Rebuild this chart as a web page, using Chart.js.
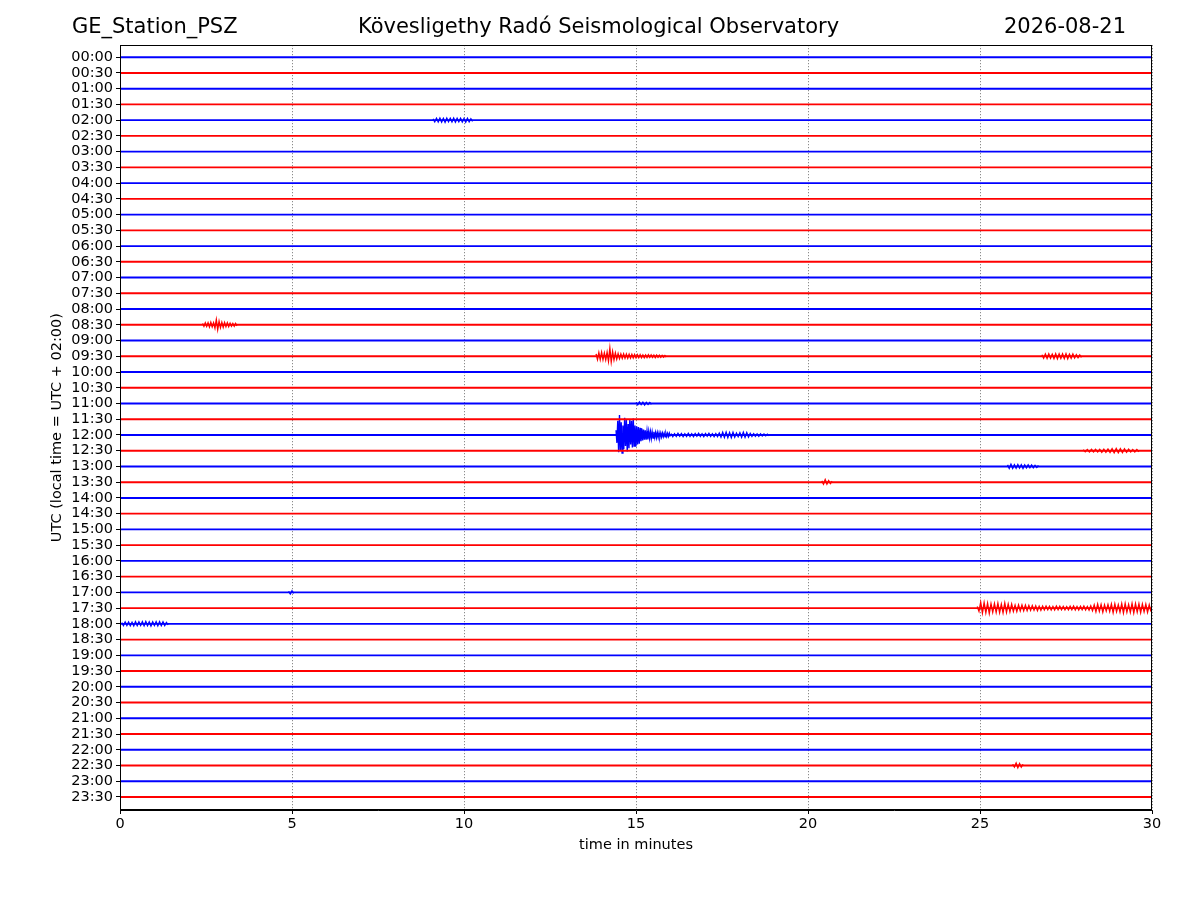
<!DOCTYPE html>
<html>
<head>
<meta charset="utf-8">
<script src="https://cdn.jsdelivr.net/npm/chart.js@4.4.1/dist/chart.umd.min.js"></script>
<style>
  html, body { margin: 0; padding: 0; background: #fff; }
  #wrap { width: 1200px; height: 900px; }
</style>
</head>
<body>
<div id="wrap"><canvas id="c" width="1200" height="900"></canvas></div>
<script>
// ---------- DATA ----------
const stationLabel = 'GE_Station_PSZ';
const titleLabel = 'Kövesligethy Radó Seismological Observatory';
const dateLabel = '2026-08-21';
const xTitle = 'time in minutes';
const yTitle = 'UTC (local time = UTC + 02:00)';

const rowLabels = ['00:00','00:30','01:00','01:30','02:00','02:30','03:00','03:30',
  '04:00','04:30','05:00','05:30','06:00','06:30','07:00','07:30',
  '08:00','08:30','09:00','09:30','10:00','10:30','11:00','11:30',
  '12:00','12:30','13:00','13:30','14:00','14:30','15:00','15:30',
  '16:00','16:30','17:00','17:30','18:00','18:30','19:00','19:30',
  '20:00','20:30','21:00','21:30','22:00','22:30','23:00','23:30'];
const traceStart = 0;   // minutes
const traceEnd = 30;    // minutes

// Events: deflections (in row-spacing units, up = positive)
// 12:00 earthquake, main phase (sampled every 0.025 min from 14.42)
const quakeStart = 14.42, quakeStep = 0.025;
const quakeAmp = [0.3,-0.5,0.9,-1.1,1.27,-1.0,0.8,-1.15,0.6,-0.9,
  1.1,-0.7,0.95,-1.05,0.7,-0.85,1.0,-0.6,0.9,-0.8,
  1.05,-0.7,0.6,-0.75,0.55,-0.6,0.5,-0.55,0.45,-0.4,
  0.4,-0.35,0.35,-0.3,0.3,-0.3,0.25,-0.28,0.22,-0.2,
  0.2,-0.22,0.18,-0.2,0.2,-0.16,0.15,-0.17,0.14,-0.15,
  0.13,-0.14,0.12,-0.13,0.12,-0.11,0.1,-0.12,0.1,-0.1,
  0.1,-0.09,0.1,-0.1];
// 12:00 earthquake, coda (every 0.05 min from 16.02)
const codaStart = 16.02, codaStep = 0.05;
const codaAmp = [0.09,-0.1,0.08,-0.09,0.1,-0.08,0.09,-0.1,0.08,-0.09,
  0.1,-0.09,0.08,-0.1,0.09,-0.08,0.1,-0.09,0.08,-0.1,
  0.09,-0.08,0.1,-0.09,0.08,-0.1,0.09,-0.1,0.12,-0.14,
  0.16,-0.15,0.17,-0.16,0.15,-0.17,0.16,-0.14,0.12,-0.1,
  0.14,-0.15,0.16,-0.14,0.15,-0.13,0.1,-0.09,0.08,-0.08,
  0.07,-0.08,0.07,-0.06,0.06,-0.05,0.05,-0.05];
// 17:30 event (every 0.05 min from 24.92)
const ev1730Start = 24.92, ev1730Step = 0.05;
const ev1730Amp = [0.1,-0.2,0.36,-0.3,0.34,-0.28,0.3,-0.33,0.27,-0.25,
  0.28,-0.26,0.3,-0.27,0.24,-0.29,0.31,-0.26,0.25,-0.22,
  0.24,-0.2,0.18,-0.21,0.2,-0.17,0.19,-0.16,0.18,-0.15,
  0.16,-0.14,0.15,-0.13,0.14,-0.15,0.12,-0.13,0.12,-0.11,
  0.12,-0.1,0.11,-0.12,0.1,-0.11,0.12,-0.1,0.11,-0.1,
  0.1,-0.11,0.09,-0.1,0.11,-0.1,0.12,-0.11,0.1,-0.12,
  0.11,-0.1,0.12,-0.11,0.1,-0.12,0.14,-0.16,0.2,-0.22,
  0.24,-0.2,0.22,-0.25,0.2,-0.18,0.22,-0.2,0.25,-0.28,
  0.26,-0.22,0.2,-0.24,0.27,-0.3,0.28,-0.25,0.22,-0.26,
  0.28,-0.3,0.27,-0.24,0.26,-0.28,0.25,-0.22,0.24,-0.26,
  0.2,-0.22];
// 09:30 event (every 0.04 min from 13.84)
const ev0930Start = 13.84, ev0930Step = 0.04;
const ev0930Amp = [0.15,-0.2,0.22,-0.2,0.24,-0.21,0.2,-0.22,0.25,-0.3,
  0.5,-0.35,0.28,-0.22,0.2,-0.18,0.16,-0.15,0.14,-0.13,
  0.14,-0.12,0.13,-0.12,0.12,-0.11,0.12,-0.1,0.11,-0.1,
  0.1,-0.09,0.1,-0.09,0.08,-0.09,0.08,-0.08,0.09,-0.07,
  0.08,-0.07,0.07,-0.08,0.07,-0.06,0.06,-0.07,0.06,-0.05,
  0.05,-0.05];
// 09:30 second burst (every 0.05 min from 26.8)
const ev0930bStart = 26.8, ev0930bStep = 0.05;
const ev0930bAmp = [0.1,-0.12,0.14,-0.13,0.15,-0.12,0.13,-0.14,0.15,-0.16,
  0.14,-0.13,0.15,-0.14,0.16,-0.15,0.13,-0.12,0.14,-0.11,0.1,-0.09,0.08,-0.07];
// 08:30 event (every 0.04 min from 2.4)
const ev0830Start = 2.4, ev0830Step = 0.04;
const ev0830Amp = [0.08,-0.1,0.12,-0.1,0.12,-0.14,0.15,-0.13,0.12,-0.2,
  0.32,-0.3,0.22,-0.18,0.15,-0.16,0.14,-0.12,0.13,-0.11,
  0.1,-0.09,0.08,-0.09,0.08,-0.07];
// 02:00 burst (every 0.05 min from 9.1)
const ev0200Start = 9.1, ev0200Step = 0.05;
const ev0200Amp = [0.08,-0.1,0.12,-0.11,0.13,-0.12,0.11,-0.13,0.12,-0.1,
  0.12,-0.11,0.13,-0.12,0.11,-0.1,0.12,-0.11,0.1,-0.12,0.11,-0.1,0.09,-0.08];
// 18:00 burst (every 0.05 min from 0.05)
const ev1800Start = 0.05, ev1800Step = 0.05;
const ev1800Amp = [0.08,-0.1,0.12,-0.1,0.11,-0.12,0.1,-0.12,0.13,-0.11,
  0.12,-0.1,0.13,-0.12,0.14,-0.11,0.12,-0.13,0.12,-0.1,
  0.14,-0.12,0.13,-0.11,0.12,-0.1,0.08,-0.07];
// 13:00 burst (every 0.05 min from 25.8)
const ev1300Start = 25.8, ev1300Step = 0.05;
const ev1300Amp = [0.1,-0.12,0.14,-0.12,0.1,-0.11,0.12,-0.1,0.11,-0.12,
  0.1,-0.09,0.1,-0.08,0.09,-0.08,0.07,-0.06,0.06];
// 12:30 burst (every 0.06 min from 28.0)
const ev1230Start = 28.0, ev1230Step = 0.06;
const ev1230Amp = [0.06,-0.07,0.07,-0.08,0.08,-0.07,0.09,-0.08,0.08,-0.1,
  0.09,-0.1,0.1,-0.11,0.12,-0.13,0.14,-0.12,0.13,-0.12,
  0.11,-0.1,0.09,-0.08,0.07,-0.08,0.07,-0.06];
// small blips
const ev2230Start = 25.95, ev2230Step = 0.05;
const ev2230Amp = [0.08,-0.1,0.15,-0.14,0.12,-0.1,0.08];
const ev1330Start = 20.4, ev1330Step = 0.05;
const ev1330Amp = [0.08,-0.12,0.16,-0.12,0.1,-0.08,0.06];
const ev1100Start = 15.0, ev1100Step = 0.05;
const ev1100Amp = [0.06,-0.08,0.09,-0.07,0.08,-0.09,0.07,-0.06,0.06,-0.05];
const ev1700Start = 4.9, ev1700Step = 0.05;
const ev1700Amp = [0.06,-0.1,0.1,-0.06];

// which row each event belongs to (index into rowLabels)
const eventRows   = [24, 24, 35, 19, 19, 17, 4, 36, 26, 25, 45, 27, 22, 34];
const eventStarts = [quakeStart, codaStart, ev1730Start, ev0930Start, ev0930bStart, ev0830Start, ev0200Start, ev1800Start, ev1300Start, ev1230Start, ev2230Start, ev1330Start, ev1100Start, ev1700Start];
const eventSteps  = [quakeStep, codaStep, ev1730Step, ev0930Step, ev0930bStep, ev0830Step, ev0200Step, ev1800Step, ev1300Step, ev1230Step, ev2230Step, ev1330Step, ev1100Step, ev1700Step];
const eventAmps   = [quakeAmp, codaAmp, ev1730Amp, ev0930Amp, ev0930bAmp, ev0830Amp, ev0200Amp, ev1800Amp, ev1300Amp, ev1230Amp, ev2230Amp, ev1330Amp, ev1100Amp, ev1700Amp];

// ---------- STYLE ----------
const FONT = 'DejaVu Sans';
const TICK_SIZE = 14.5;
const colorFor = i => (i % 2 === 0 ? '#0000ff' : '#ff0000');

const datasets = [];
rowLabels.forEach((lab, i) => {
  datasets.push({
    data: [{x: traceStart, y: i}, {x: traceEnd, y: i}],
    borderColor: colorFor(i),
    borderWidth: 1.9,
    pointRadius: 0,
    tension: 0,
    fill: false
  });
});
eventRows.forEach((row, k) => {
  const pts = eventAmps[k].map((a, j) => ({x: eventStarts[k] + j * eventSteps[k], y: row - a}));
  datasets.push({
    data: pts,
    borderColor: colorFor(row),
    borderWidth: 1.4,
    pointRadius: 0,
    tension: 0,
    fill: false
  });
});

const sideTitles = {
  id: 'sideTitles',
  afterDraw(chart) {
    const ctx = chart.ctx;
    ctx.save();
    ctx.fillStyle = '#000';
    ctx.font = '21px "' + FONT + '"';
    ctx.textBaseline = 'middle';
    ctx.textAlign = 'left';
    ctx.fillText(stationLabel, 72, 28);
    ctx.textAlign = 'right';
    ctx.fillText(dateLabel, 1126, 28);
    // frame around plot area
    const a = chart.chartArea;
    ctx.strokeStyle = '#000';
    ctx.lineWidth = 1;
    ctx.strokeRect(Math.round(a.left) + 0.5, Math.round(a.top) + 0.5, Math.round(a.right - a.left) - 1, Math.round(a.bottom - a.top) - 1);
    ctx.restore();
  }
};

new Chart(document.getElementById('c'), {
  type: 'line',
  data: { datasets },
  options: {
    responsive: false,
    animation: false,
    devicePixelRatio: 1,
    layout: { padding: { left: 45, right: 48, top: 0, bottom: 40 } },
    plugins: {
      legend: { display: false },
      tooltip: { enabled: false },
      title: {
        display: true,
        text: titleLabel,
        color: '#000',
        font: { family: FONT, size: 21, weight: 'normal' },
        padding: { top: 15, bottom: 5 }
      }
    },
    scales: {
      x: {
        type: 'linear',
        min: 0, max: 30,
        afterFit: s => { s.height = 50; },
        ticks: { stepSize: 5, color: '#000', font: { family: FONT, size: TICK_SIZE }, padding: 2, maxRotation: 0 },
        grid: {
          drawOnChartArea: true,
          color: 'rgba(0,0,0,0.7)',
          lineWidth: 0.8,
          tickColor: '#000',
          tickLength: 4,
          tickWidth: 1,
          tickBorderDash: []
        },
        border: { display: true, color: '#000', width: 1, dash: [1, 2] },
        title: { display: true, text: xTitle, color: '#000', font: { family: FONT, size: TICK_SIZE }, padding: { top: 2, bottom: 6 } }
      },
      y: {
        type: 'linear',
        reverse: true,
        min: -0.762, max: 47.826,
        afterFit: s => { s.width = 75; },
        afterBuildTicks: s => { s.ticks = rowLabels.map((l, i) => ({ value: i })); },
        ticks: {
          autoSkip: false,
          color: '#000',
          font: { family: FONT, size: TICK_SIZE },
          padding: 3,
          callback: v => rowLabels[v]
        },
        grid: { drawOnChartArea: false, tickColor: '#000', tickLength: 4, tickWidth: 1 },
        border: { display: true, color: '#000', width: 1 },
        title: { display: true, text: yTitle, color: '#000', font: { family: FONT, size: TICK_SIZE }, padding: { top: 4, bottom: 4 } }
      }
    }
  },
  plugins: [sideTitles]
});
</script>
</body>
</html>
